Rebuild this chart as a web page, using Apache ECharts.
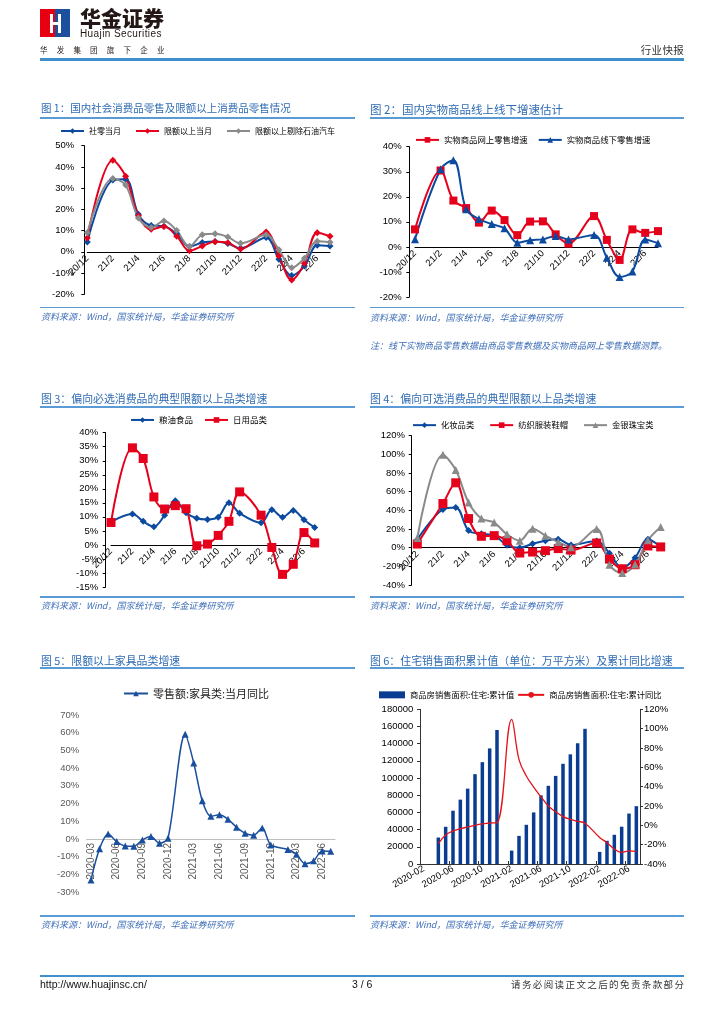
<!DOCTYPE html>
<html><head><meta charset="utf-8">
<script src="https://cdn.jsdelivr.net/npm/echarts@6.0.0/dist/echarts.min.js"></script>
<style>
body{margin:0;width:724px;height:1024px;position:relative;background:#fff;overflow:hidden}
#c{position:absolute;left:0;top:0;width:724px;height:1024px}
.t{position:absolute;white-space:nowrap;line-height:1;font-family:'Noto Sans CJK SC',sans-serif;z-index:2}
.title{color:#2f6bb2}
.src{color:#3f6fb8;font-size:9px;font-style:italic}
.rule{position:absolute;height:1.5px;background:#5b9bd5;z-index:2}
</style></head>
<body>
<div id="c"></div>
<!-- header -->
<div style="position:absolute;left:40px;top:9px;width:15px;height:28px;background:#e60012"></div>
<div style="position:absolute;left:55px;top:9px;width:15px;height:28px;background:#1d4f9f"></div>
<div style="position:absolute;left:50px;top:14px;width:2.5px;height:19px;background:#fff"></div>
<div style="position:absolute;left:58px;top:14px;width:2.5px;height:19px;background:#fff"></div>
<div style="position:absolute;left:50px;top:22px;width:10px;height:3px;background:#fff"></div>
<div class="t" style="left:80px;top:7px;font-size:21px;font-weight:900;color:#231815">华金证券</div>
<div class="t" style="left:80px;top:29px;font-size:10px;color:#231815;font-family:'Liberation Sans',sans-serif;letter-spacing:0.4px">Huajin Securities</div>
<div class="t" style="left:40px;top:45.5px;font-size:7.5px;color:#231815;letter-spacing:9.2px">华发集团旗下企业</div>
<div class="t" style="right:40px;top:44.5px;font-size:10.5px;color:#333;letter-spacing:0.3px">行业快报</div>
<div style="position:absolute;left:40px;top:58px;width:644px;height:2.5px;background:#3e8fcc"></div>

<!-- titles -->
<div class="t title" style="left:41px;top:103px;font-size:10.5px">图 1：国内社会消费品零售及限额以上消费品零售情况</div>
<div class="t title" style="left:370px;top:103.5px;font-size:11.5px">图 2：国内实物商品线上线下增速估计</div>
<div class="t title" style="left:41px;top:393px;font-size:10.9px">图 3：偏向必选消费品的典型限额以上品类增速</div>
<div class="t title" style="left:370px;top:393px;font-size:10.9px">图 4：偏向可选消费品的典型限额以上品类增速</div>
<div class="t title" style="left:41px;top:654.5px;font-size:10.9px">图 5：限额以上家具品类增速</div>
<div class="t title" style="left:370px;top:654.5px;font-size:10.9px">图 6：住宅销售面积累计值（单位：万平方米）及累计同比增速</div>
<div class="rule" style="left:40px;top:117px;width:315px"></div>
<div class="rule" style="left:370px;top:117px;width:314px"></div>
<div class="rule" style="left:40px;top:406px;width:315px"></div>
<div class="rule" style="left:370px;top:406px;width:314px"></div>
<div class="rule" style="left:40px;top:667px;width:315px"></div>
<div class="rule" style="left:370px;top:667px;width:314px"></div>
<div class="rule" style="left:40px;top:306.5px;width:315px"></div>
<div class="rule" style="left:370px;top:306.5px;width:314px"></div>
<div class="rule" style="left:40px;top:596px;width:315px"></div>
<div class="rule" style="left:370px;top:596px;width:314px"></div>
<div class="rule" style="left:40px;top:915px;width:315px"></div>
<div class="rule" style="left:370px;top:915px;width:314px"></div>
<div class="t src" style="left:41px;top:312px">资料来源：Wind，国家统计局，华金证券研究所</div>
<div class="t src" style="left:370px;top:312.5px">资料来源：Wind，国家统计局，华金证券研究所</div>
<div class="t src" style="left:370px;top:341px">注：线下实物商品零售数据由商品零售数据及实物商品网上零售数据测算。</div>
<div class="t src" style="left:41px;top:601px">资料来源：Wind，国家统计局，华金证券研究所</div>
<div class="t src" style="left:370px;top:601px">资料来源：Wind，国家统计局，华金证券研究所</div>
<div class="t src" style="left:41px;top:919.5px">资料来源：Wind，国家统计局，华金证券研究所</div>
<div class="t src" style="left:370px;top:919.5px">资料来源：Wind，国家统计局，华金证券研究所</div>

<!-- footer -->
<div style="position:absolute;left:40px;top:975px;width:644px;height:1.5px;background:#3e8fcc"></div>
<div class="t" style="left:40px;top:979px;font-size:10.5px;color:#111;font-family:'Liberation Sans',sans-serif">http://www.huajinsc.cn/</div>
<div class="t" style="left:352px;top:979px;font-size:10.5px;color:#111;font-family:'Liberation Sans',sans-serif">3 / 6</div>
<div class="t" style="right:38.6px;top:979.5px;font-size:9.5px;color:#333;letter-spacing:1.4px">请务必阅读正文之后的免责条款部分</div>

<script>
// ---------- data ----------
const cats = ['20/12','21/1','21/2','21/3','21/4','21/5','21/6','21/7','21/8','21/9','21/10','21/11','21/12','22/1','22/2','22/3','22/4','22/5','22/6','22/7'];
// chart 1
const szdy   = [4.6, null, 33.8, 34.2, 17.7, 12.4, 12.1, 8.5, 2.5, 4.4, 4.9, 3.9, 1.7, null, 6.7, -3.5, -11.1, -6.7, 3.1, 2.7];
const xedy   = [6.5, null, 43.2, 35.6, 17.0, 10.6, 11.9, 7.4, 0.5, 2.7, 4.7, 4.3, 1.3, null, 9.3, -2.0, -13.3, -5.5, 9.0, 7.4];
const xeExCar= [9.0, null, 34.5, 31.5, 16.0, 11.5, 14.5, 10.0, 2.5, 8.0, 8.5, 7.0, 4.0, null, 8.0, 1.0, -7.5, -3.0, 5.0, 4.5];
// chart 2
const online = [7.0, null, 30.5, 18.5, 15.5, 9.7, 14.5, 10.7, 4.7, 10.1, 10.2, 5.0, 1.3, null, 12.3, 2.8, -5.2, 7.0, 5.6, 6.3];
const offline= [3.1, null, 31.0, 34.6, 15.0, 11.1, 9.1, 7.4, 1.7, 2.7, 3.0, 4.4, 3.0, null, 4.8, -4.3, -12.0, -9.8, 3.0, 1.5];
// chart 3
const grain  = [8.2, null, 11.0, 8.4, 6.5, 10.6, 15.7, 11.5, 9.5, 9.1, 9.9, 15.0, 11.3, null, 7.9, 12.5, 9.9, 12.3, 9.0, 6.2];
const daily  = [8.0, null, 34.6, 30.8, 17.1, 12.8, 14.0, 12.9, -0.3, 0.3, 3.4, 8.4, 18.9, null, 10.6, -0.9, -10.5, -6.9, 4.4, 0.7];
// chart 4
const cosm   = [8.6, null, 40.9, 43.0, 18.3, 15.0, 13.3, 2.5, 0.0, 4.3, 7.5, 9.0, 2.9, null, 7.2, -6.1, -21.9, -10.8, 9.0, 0.7];
const cloth  = [3.9, null, 47.3, 69.5, 31.2, 12.2, 12.9, 7.5, -5.7, -4.7, -3.2, -1.0, -2.6, null, 5.0, -12.2, -22.6, -18.3, 1.8, 0.8];
const jewel  = [10.4, null, 99.6, 83.2, 48.4, 31.2, 26.9, 14.3, 7.5, 20.4, 12.9, 6.1, 0.5, null, 20.0, -18.3, -27.2, -17.9, 7.9, 22.2];
// chart 5
const months5 = ['2020-03','2020-04','2020-05','2020-06','2020-07','2020-08','2020-09','2020-10','2020-11','2020-12','2021-01','2021-02','2021-03','2021-04','2021-05','2021-06','2021-07','2021-08','2021-09','2021-10','2021-11','2021-12','2022-01','2022-02','2022-03','2022-04','2022-05','2022-06','2022-07'];
const furniture = [-23.2, -5.6, 2.8, -1.5, -4.0, -4.1, -0.6, 1.3, -2.4, 0.4, null, 59.1, 42.9, 21.5, 12.8, 13.6, 11.1, 6.6, 3.2, 2.1, 6.2, -3.4, null, -6.0, -8.7, -14.1, -12.4, -6.8, -7.0];
// chart 6
const months6 = ['2020-02','2020-03','2020-04','2020-05','2020-06','2020-07','2020-08','2020-09','2020-10','2020-11','2020-12','2021-01','2021-02','2021-03','2021-04','2021-05','2021-06','2021-07','2021-08','2021-09','2021-10','2021-11','2021-12','2022-01','2022-02','2022-03','2022-04','2022-05','2022-06','2022-07'];
const areaCum = [null, null, 30800, 43300, 62000, 74900, 87700, 104500, 118500, 134500, 155900, null, 15600, 32700, 45600, 60000, 79900, 91000, 102500, 116600, 127600, 140500, 157300, null, 14100, 27000, 34000, 43400, 58700, 67300];
const areaYoy = [null, null, -19.0, -10.0, -5.9, -3.5, -1.7, 0.0, 1.4, 2.4, 2.8, null, 109.5, 68.0, 51.0, 39.5, 29.5, 20.0, 14.0, 9.0, 6.2, 4.2, 2.1, null, -12.5, -18.0, -24.5, -28.0, -26.5, -27.0];

// ---------- layout / styles ----------
const BLUE = '#0b4a9f', RED = '#e5001c', GRAY = '#8a8a8a';
const LAT = "'Liberation Sans','Noto Sans CJK SC',sans-serif";
const CJK = "'Noto Sans CJK SC','Liberation Sans',sans-serif";

const grids = [
  {left: 87.3, top: 145.7, width: 242.7, height: 148.6, min: -20, max: 50},
  {left: 415, top: 146.7, width: 243, height: 150.3, min: -20, max: 40},
  {left: 111, top: 432.7, width: 203.7, height: 154.3, min: -15, max: 40},
  {left: 417.3, top: 435.7, width: 243.4, height: 149.3, min: -40, max: 120},
  {left: 86.7, top: 715, width: 248.3, height: 177, min: -30, max: 70},
  {left: 420, top: 709.3, width: 220, height: 154.7, min: 0, max: 180000}
];
// shift a bottom x axis up so that it sits on the value 0 line (labels follow)
function zeroOffset(g) { return -g.height * (0 - g.min) / (g.max - g.min); }

function catX(gi, data, opts) {
  return Object.assign({
    type: 'category', gridIndex: gi, data: data, boundaryGap: false, position: 'bottom',
    offset: zeroOffset(grids[gi]),
    axisLine: {onZero: false, lineStyle: {color: '#000', width: 1}},
    axisTick: {show: false},
    axisLabel: {interval: 1, rotate: 45, fontSize: 9.5, color: '#000', margin: 5, fontFamily: LAT},
    splitLine: {show: false}
  }, opts || {});
}
function valY(gi, min, max, interval, offset, margin, extra) {
  return Object.assign({
    type: 'value', gridIndex: gi, min: min, max: max, interval: interval, offset: offset,
    axisLine: {show: true, lineStyle: {color: '#000', width: 1}},
    axisTick: {show: true, length: 3, lineStyle: {color: '#000'}},
    axisLabel: {formatter: '{value}%', fontSize: 9.5, color: '#000', margin: margin, fontFamily: LAT},
    splitLine: {show: false}
  }, extra || {});
}
function ln(name, gi, data, color, symbol, size, extra) {
  return Object.assign({
    type: 'line', name: name, xAxisIndex: gi, yAxisIndex: gi, data: data,
    connectNulls: true, smooth: 0.35, symbol: symbol, symbolSize: size, showAllSymbol: true,
    lineStyle: {width: 2, color: color}, itemStyle: {color: color}
  }, extra || {});
}
function lg(names, left, centerY, gap, extra) {
  return Object.assign({
    data: names, left: left, top: centerY - 5, itemGap: gap, padding: 0,
    itemWidth: 23, itemHeight: 7, selectedMode: false,
    textStyle: {fontSize: 8, color: '#000', fontFamily: CJK}
  }, extra || {});
}

const option = {
  animation: false,
  backgroundColor: 'transparent',
  grid: grids.map(g => ({left: g.left, top: g.top, width: g.width, height: g.height})),
  legend: [
    lg(['社零当月', '限额以上当月', '限额以上剔除石油汽车'], 60, 132, 14),
    lg(['实物商品网上零售增速', '实物商品线下零售增速'], 415, 140.7, 10, {textStyle: {fontSize: 8.4, color: '#000', fontFamily: CJK}}),
    lg(['粮油食品', '日用品类'], 130, 420.7, 11, {textStyle: {fontSize: 8.5, color: '#000', fontFamily: CJK}}),
    lg(['化妆品类', '纺织服装鞋帽', '金银珠宝类'], 412, 426, 15, {textStyle: {fontSize: 8.3, color: '#000', fontFamily: CJK}}),
    lg(['零售额:家具类:当月同比'], 123, 694.3, 10, {top: 688, itemWidth: 24, textStyle: {fontSize: 11, color: '#222', fontFamily: CJK}}),
    lg([{name: '商品房销售面积:住宅:累计值', icon: 'rect'}, {name: '商品房销售面积:住宅:累计同比'}], 379, 695.7, 3,
       {itemWidth: 26, itemHeight: 7, textStyle: {fontSize: 8.3, color: '#000', fontFamily: CJK}})
  ],
  xAxis: [
    catX(0, cats),
    catX(1, cats),
    catX(2, cats),
    catX(3, cats),
    catX(4, months5, {boundaryGap: true,
      axisLine: {onZero: false, lineStyle: {color: '#bfbfbf', width: 1}},
      axisLabel: {interval: 2, rotate: 90, fontSize: 10, color: '#595959', margin: 4, fontFamily: LAT}}),
    catX(5, months6, {boundaryGap: true, offset: 0,
      axisLine: {onZero: false, lineStyle: {color: '#333', width: 1}},
      axisTick: {show: true, inside: true, interval: 3, length: 3, lineStyle: {color: '#333'}},
      axisLabel: {interval: 3, rotate: 30, fontSize: 9.5, color: '#000', margin: 4, fontFamily: LAT}})
  ],
  yAxis: [
    valY(0, -20, 50, 10, 3, 10),
    valY(1, -20, 40, 10, 5.7, 7.6),
    valY(2, -15, 40, 5, 5.3, 7.4),
    valY(3, -40, 120, 20, 5.6, 6.7),
    valY(4, -30, 70, 10, 0, 7.4, {axisLine: {show: false}, axisTick: {show: false},
      axisLabel: {formatter: '{value}%', fontSize: 9.5, color: '#595959', margin: 7.4, fontFamily: LAT}}),
    valY(5, 0, 180000, 20000, 0, 6.7, {axisLine: {show: true, lineStyle: {color: '#333'}},
      axisTick: {show: true, length: 3, lineStyle: {color: '#333'}},
      axisLabel: {formatter: v => String(v), fontSize: 9.5, color: '#000', margin: 6.7, fontFamily: LAT}}),
    valY(5, -40, 120, 20, 0, 4, {position: 'right', axisLine: {show: true, lineStyle: {color: '#333'}},
      axisTick: {show: true, length: 3, lineStyle: {color: '#333'}},
      axisLabel: {formatter: '{value}%', fontSize: 9.5, color: '#000', margin: 4, fontFamily: LAT}})
  ],
  series: [
    ln('社零当月', 0, szdy, BLUE, 'diamond', 7),
    ln('限额以上当月', 0, xedy, RED, 'diamond', 7),
    ln('限额以上剔除石油汽车', 0, xeExCar, GRAY, 'diamond', 7),
    ln('实物商品网上零售增速', 1, online, RED, 'rect', 8),
    ln('实物商品线下零售增速', 1, offline, BLUE, 'triangle', 8),
    ln('粮油食品', 2, grain, BLUE, 'diamond', 7),
    ln('日用品类', 2, daily, RED, 'rect', 9),
    ln('化妆品类', 3, cosm, BLUE, 'diamond', 7),
    ln('纺织服装鞋帽', 3, cloth, RED, 'rect', 9),
    ln('金银珠宝类', 3, jewel, GRAY, 'triangle', 8),
    ln('零售额:家具类:当月同比', 4, furniture, '#1a4f9e', 'triangle', 7, {lineStyle: {width: 1.5, color: '#1a4f9e'}, smooth: 0.3}),
    {type: 'bar', name: '商品房销售面积:住宅:累计值', xAxisIndex: 5, yAxisIndex: 5, data: areaCum,
      barWidth: 3.5, itemStyle: {color: '#0a3c92'}},
    {type: 'line', name: '商品房销售面积:住宅:累计同比', xAxisIndex: 5, yAxisIndex: 6, data: areaYoy,
      connectNulls: true, smooth: 0.4, showSymbol: false, symbol: 'none',
      lineStyle: {width: 1.3, color: '#e3141b'}, itemStyle: {color: '#e3141b'}}
  ]
};
const chart = echarts.init(document.getElementById('c'), null, {renderer: 'canvas', width: 724, height: 1024});
chart.setOption(option);
</script>
</body></html>
